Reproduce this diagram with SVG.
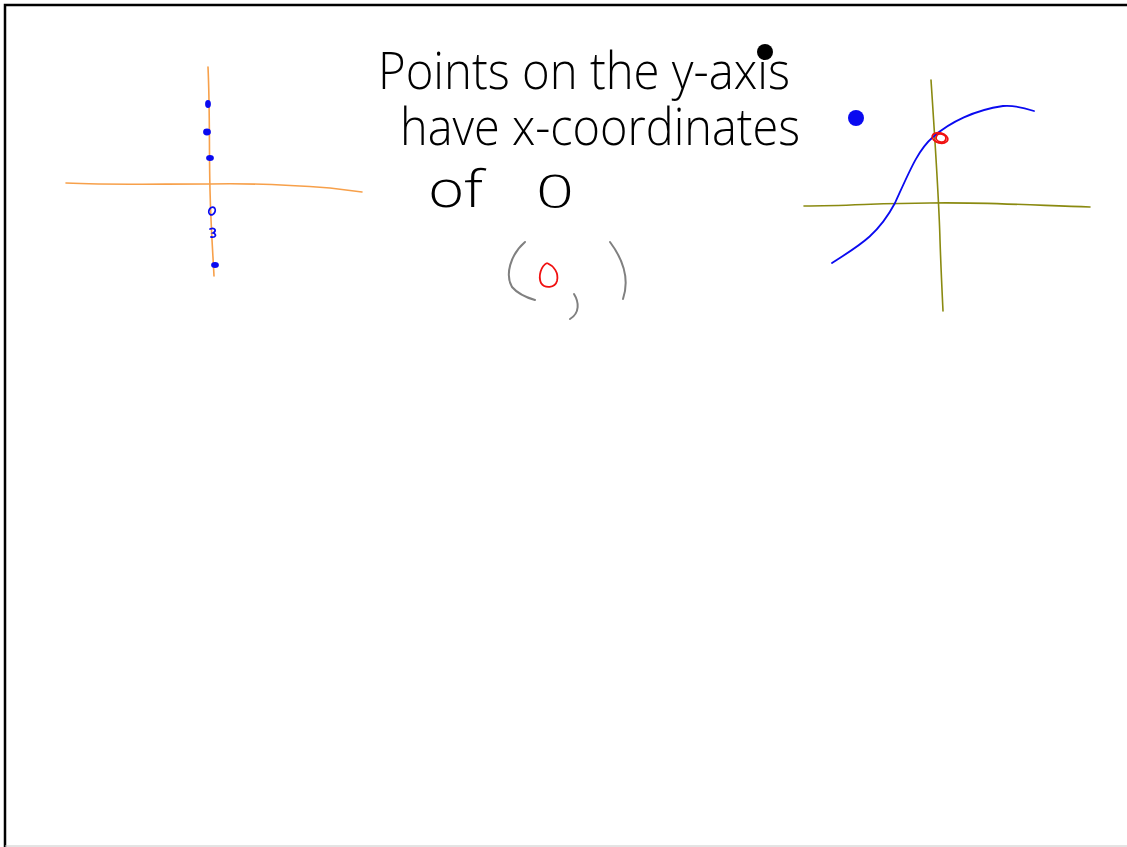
<svg xmlns="http://www.w3.org/2000/svg" width="1127" height="847" viewBox="0 0 1127 847">
<style>
.txt{font-family:"Open Sans","Liberation Sans",sans-serif;font-weight:300;fill:#000;font-size:52px}
.orange{fill:none;stroke:#f7a04a;stroke-width:1.6;stroke-linecap:round}
.olive{fill:none;stroke:#8a8a10;stroke-width:1.6;stroke-linecap:round}
.blue{fill:none;stroke:#0a0af0;stroke-width:1.8;stroke-linecap:round}
.gray{fill:none;stroke:#808080;stroke-width:2;stroke-linecap:round}
.red{fill:none;stroke:#f01010;stroke-width:1.8}
</style>
<rect x="0" y="0" width="1127" height="847" fill="#fff"/>
<path d="M5,847 V5 H1127" fill="none" stroke="#000" stroke-width="2.5"/>
<line x1="5" y1="846" x2="1127" y2="846" stroke="#c8c8c8" stroke-width="1"/>

<g id="heading">
<text class="txt" x="378" y="89" textLength="412" lengthAdjust="spacingAndGlyphs">Points on the y-axis</text>
<text class="txt" x="400" y="145" textLength="400" lengthAdjust="spacingAndGlyphs">have x-coordinates</text>
<text class="txt" x="428" y="207" textLength="55" lengthAdjust="spacingAndGlyphs">of</text>
<text class="txt" x="536" y="208" textLength="38" lengthAdjust="spacingAndGlyphs" style="font-size:46px">0</text>
</g>
<circle cx="765" cy="52" r="8" fill="#000"/>

<g id="left-axes">
<path class="orange" d="M66,183 C110,185 150,184 210,184 C250,183 290,185 330,188 L362,192"/>
<path class="orange" d="M208,67 C210,110 209,150 210,190 C211,230 213,255 214,276"/>
<g class="blue">
<ellipse cx="208" cy="104" rx="2" ry="3" fill="#0a0af0"/>
<ellipse cx="207" cy="132" rx="3" ry="2.5" fill="#0a0af0"/>
<ellipse cx="210" cy="158" rx="3" ry="2" fill="#0a0af0"/>
<ellipse cx="212" cy="211" rx="3" ry="4" transform="rotate(25 212 211)"/>
<path d="M210,229 C215,227 217,231 213,233 C217,234 216,238 211,237"/>
<ellipse cx="215" cy="265" rx="3" ry="2" fill="#0a0af0"/>
</g>
</g>

<g id="point-0">
<path class="gray" d="M525,242 C510,255 505,275 512,287 C518,294 528,298 535,300"/>
<path class="gray" d="M610,242 C622,258 630,278 623,299"/>
<path class="gray" d="M574,294 C579,302 580,313 570,319"/>
<path class="red" d="M547,263 C541,266 538,276 541,283 C545,289 555,288 557,281 C559,273 554,266 547,263"/>
</g>

<circle cx="856" cy="118" r="8" fill="#0a0af0"/>

<g id="right-graph">
<path class="olive" d="M804,206 C850,206 880,203 930,203 C980,202 1030,205 1090,207"/>
<path class="olive" d="M931,80 C935,140 939,200 940,240 C941,270 942,290 943,311"/>
<path class="blue" d="M832,263 C860,245 878,235 895,203 C910,170 918,150 933,137 C950,122 975,110 1003,106 C1015,105 1025,108 1034,111"/>
<ellipse class="red" cx="940" cy="138" rx="8" ry="5" transform="rotate(15 940 138)"/>
<ellipse class="red" cx="941" cy="138" rx="5" ry="4" transform="rotate(15 941 138)"/>
</g>
</svg>
